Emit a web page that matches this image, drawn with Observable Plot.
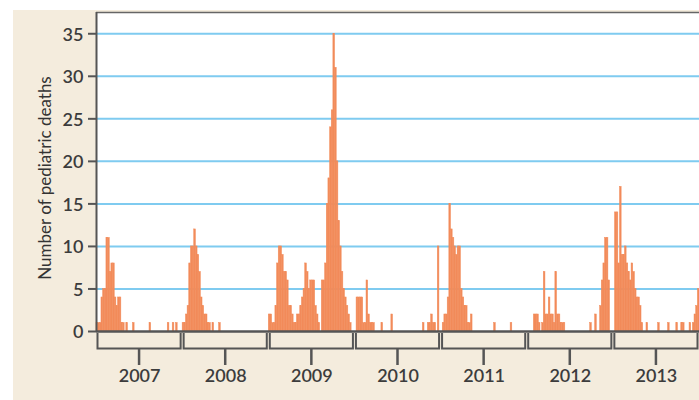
<!DOCTYPE html>
<html><head><meta charset="utf-8">
<script src="https://cdn.jsdelivr.net/npm/d3@7"></script>
<script src="https://cdn.jsdelivr.net/npm/@observablehq/plot@0.6"></script>
<style>
html,body{margin:0;padding:0;background:#fff;}
#panel{position:absolute;left:13px;top:10px;width:686px;height:390px;background:#f4ecdd;overflow:hidden;}
</style></head><body><div id="panel"></div>
<script>
const years = ["2007","2008","2009","2010","2011","2012","2013"];
// weekly pediatric deaths, 52 weeks per year
const y2007 = [1,1,1,4,5,5,11,11,7,8, 8,4,3,4,4,1,1,0,1,0, 0,0,1,0,0,0,0,0,0,0, 0,0,1,0,0,0,0,0,0,0, 0,0,0,1,0,0,1,0,1,0, 0,0];
const y2008 = [1,1,2,3,8,10,10,12,10,9, 7,4,3,2,2,1,1,0,1,0, 0,0,1,0,0,0,0,0,0,0, 0,0,0,0,0,0,0,0,0,0, 0,0,0,0,0,0,0,0,0,0, 0,0];
const y2009 = [2,2,1,1,3,8,10,10,9,7, 7,6,3,3,2,1,1,2,2,3, 4,5,8,7,5,6,6,6,3,2, 1,0,6,6,8,15,18,24,26,35, 31,20,13,10,7,5,4,3,2,1, 0,0];
const y2010 = [0,4,4,4,4,1,1,6,2,1, 1,1,0,0,0,0,1,0,0,0, 0,0,2,0,0,0,0,0,0,0, 0,0,0,0,0,0,0,0,0,0, 0,1,0,0,1,1,2,1,1,0, 10,0];
const y2011 = [0,1,2,2,4,15,12,11,10,9, 10,10,5,4,3,3,1,1,2,0, 0,0,0,0,0,0,0,0,0,0, 0,0,1,0,0,0,0,0,0,0, 0,0,1,0,0,0,0,0,0,0, 0,0];
const y2012 = [0,0,0,0,2,2,2,1,0,1, 7,2,2,4,2,2,1,7,2,2, 1,1,1,0,0,0,0,0,0,0, 0,0,0,0,0,0,0,0,1,0, 0,2,0,0,3,6,8,11,11,6, 0,0];
const y2013 = [0,14,14,8,17,9,9,10,8,7, 6,8,7,5,4,4,3,1,0,0, 1,0,0,0,0,0,0,1,0,0, 0,0,0,1,0,0,0,0,1,0, 0,1,1,0,0,0,1,0,1,2, 3,5];
const yTicks = [0,5,10,15,20,25,30,35];
const yLabel = "Number of pediatric deaths";
const yMax = 37.5;
const weeksPerYear = 52;

const series = [y2007,y2008,y2009,y2010,y2011,y2012,y2013];
const weeks = series.flatMap((arr,k)=>arr.map((v,j)=>({week:k*weeksPerYear+j, deaths:v})));
const yearSpans = years.map((label,k)=>({label, start:k*weeksPerYear, end:(k+1)*weeksPerYear, mid:(k+0.5)*weeksPerYear}));

const brackets = (index, scales, values, dimensions) => {
  const {height, marginBottom} = dimensions;
  const base = height - marginBottom;
  const g = d3.create("svg:g").attr("stroke","#555").attr("stroke-width",2).attr("fill","none");
  for (const s of yearSpans) {
    const x0 = scales.x(s.start)+1.5, x1 = scales.x(s.end)-1.5, xm = scales.x(s.mid);
    g.append("path").attr("d", `M${x0},${base+2}V${base+17.5}H${x1}V${base+2}`);
    g.append("path").attr("d", `M${xm},${base+17.5}V${base+34}`).attr("stroke-width",2.5);
  }
  return g.node();
};

const chart = Plot.plot({
  width: 686, height: 390,
  marginLeft: 83, marginRight: 0, marginTop: 2, marginBottom: 69,
  style: {background:"transparent", fontFamily:"Lato, sans-serif", overflow:"visible"},
  x: {domain:[0, years.length*weeksPerYear], axis:null},
  y: {domain:[0, yMax], axis:null},
  marks: [
    Plot.frame({fill:"white", stroke:null}),
    Plot.gridY(yTicks.filter(d=>d>0), {stroke:"#7fcbf0", strokeOpacity:1, strokeWidth:2}),
    Plot.rectY(weeks.filter(d=>d.deaths>0), {x1:"week", x2:d=>d.week+1, y:"deaths", fill:"#f28b5a", stroke:"#f28b5a", strokeWidth:0.5}),
    Plot.ruleY([yMax], {stroke:"#666", strokeWidth:1.5}),
    Plot.ruleX([0], {stroke:"#555", strokeWidth:2}),
    Plot.ruleY([0], {stroke:"#555", strokeWidth:2.5}),
    Plot.axisY(yTicks, {tickSize:8, tickFormat:()=>"", stroke:"#555", strokeWidth:2, label:null}),
    Plot.text(yTicks, {y:d=>d, text:d=>String(d), frameAnchor:"left", textAnchor:"end", dx:-13, dy:1, fontSize:18, fontWeight:600, fill:"#3c3c3c"}),
    Plot.text(yearSpans, {x:"mid", text:"label", frameAnchor:"bottom", dy:45, fontSize:18, fontWeight:600, fill:"#3c3c3c", lineAnchor:"middle"}),
    Plot.text([yLabel], {frameAnchor:"left", textAnchor:"middle", rotate:-90, dx:-51, dy:6, fontSize:17, fill:"#333"}),
    brackets
  ]
});
document.getElementById("panel").appendChild(chart);
</script></body></html>
